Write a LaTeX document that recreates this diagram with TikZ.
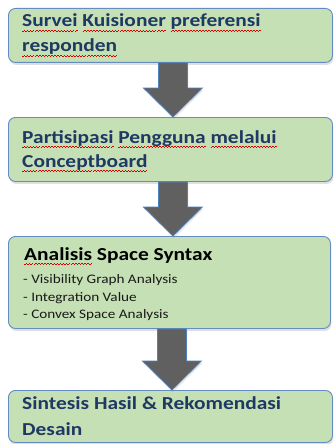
\documentclass[tikz,border=0pt]{standalone}
\usepackage{fontspec}
\setmainfont{Carlito}[FakeStretch=1.17]
\usetikzlibrary{shadows,calc}
\definecolor{boxfill}{RGB}{197,224,180}
\definecolor{boxline}{RGB}{100,140,195}
\definecolor{navy}{RGB}{31,56,100}
\definecolor{arrowfill}{RGB}{96,96,96}
\definecolor{arrowline}{RGB}{79,129,189}
\newsavebox\wavebox
\newcommand\spellwave[1]{\sbox\wavebox{#1}\leavevmode\rlap{\textcolor{red!85!black}{\lower4.5pt\hbox to \wd\wavebox{\xleaders\hbox to 3pt{\rule[0pt]{1.5pt}{0.6pt}\rule[0.8pt]{1.5pt}{0.6pt}}\hfill}}}\usebox\wavebox}
\newcommand\flowarrow[2]{%
  \draw[blockarrow] let \p1=($(#1.south)+(2.5,0)$), \p2=($(#2.north)+(2.5,0)$) in
  (\x1-14.5pt,\y1) -- (\x1+14.5pt,\y1) -- (\x1+14.5pt,\y2+29pt) -- (\x1+29.5pt,\y2+29pt)
  -- (\x1,\y2) -- (\x1-29.5pt,\y2+29pt) -- (\x1-14.5pt,\y2+29pt) -- cycle;}
\begin{document}
\begin{tikzpicture}[x=1pt,y=-1pt,
  box/.style={draw=boxline, line width=0.9pt, fill=boxfill, rounded corners=7pt,
    drop shadow={opacity=0.25, shadow xshift=1pt, shadow yshift=-2.5pt},
    anchor=north west, inner sep=0pt, minimum width=324pt},
  blockarrow/.style={draw=arrowline, line width=0.7pt, fill=arrowfill,
    drop shadow={opacity=0.2, shadow xshift=1pt, shadow yshift=-2pt}},
  title/.style={anchor=base west, inner sep=0pt, font=\fontsize{18.3}{22}\selectfont\bfseries, text=navy},
  blacktitle/.style={title, text=black},
  item/.style={anchor=base west, inner sep=0pt, font=\fontsize{13}{16}\selectfont, text=black!90}]
\useasboundingbox (0,0) rectangle (333,444);
\fill[white] (0,0) rectangle (333,444);
\node[box, minimum height=54pt] (b1) at (8,8) {};
\node[box, minimum height=64pt] (b2) at (8,117) {};
\node[box, minimum height=92pt, minimum width=322pt] (b3) at (8,236) {};
\node[box, minimum height=52pt] (b4) at (8,390) {};
\flowarrow{b1}{b2}
\flowarrow{b2}{b3}
\flowarrow{b3}{b4}
\node[title] (t1a) at (22,27) {\spellwave{Survei} \spellwave{Kuisioner} \spellwave{preferensi}};
\node[title] (t1b) at (22,52) {\spellwave{responden}};
\node[title] (t2a) at (22,143) {\spellwave{Partisipasi} \spellwave{Pengguna} \spellwave{melalui}};
\node[title] (t2b) at (22,167) {\spellwave{Conceptboard}};
\node[blacktitle] (t3) at (24,260) {\spellwave{Analisis} Space Syntax};
\node[item] (i1) at (23,283) {- Visibility Graph Analysis};
\node[item] (i2) at (23,301) {- Integration Value};
\node[item] (i3) at (23,318) {- Convex Space Analysis};
\node[title] (t4a) at (22,409) {Sintesis Hasil \& Rekomendasi};
\node[title] (t4b) at (22,435) {Desain};
\end{tikzpicture}
\end{document}
